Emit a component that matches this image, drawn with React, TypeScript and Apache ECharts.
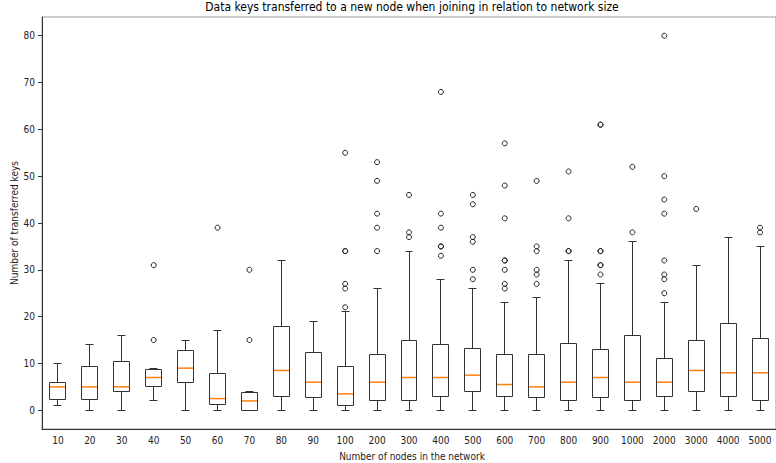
import React, { useEffect, useRef } from 'react';
import * as echarts from 'echarts';

const categories = ['10', '20', '30', '40', '50', '60', '70', '80', '90', '100', '200', '300', '400', '500', '600', '700', '800', '900', '1000', '2000', '3000', '4000', '5000'];

const whiskerLow = [1, 0, 0, 2, 0, 0, 0, 0, 0, 0, 0, 0, 0, 0, 0, 0, 0, 0, 0, 0, 0, 0, 0];
const q1 = [2.25, 2.25, 4, 5, 6, 1.25, 0, 3, 2.75, 1, 2, 2, 3, 4, 3, 2.75, 2, 2.75, 2, 3, 4, 3, 2];
const median = [5, 5, 5, 7, 9, 2.5, 2, 8.5, 6, 3.5, 6, 7, 7, 7.5, 5.5, 5, 6, 7, 6, 6, 8.5, 8, 8];
const q3 = [6, 9.25, 10.5, 8.75, 12.75, 7.75, 3.75, 18, 12.25, 9.25, 12, 15, 14, 13.25, 12, 12, 14.25, 13, 16, 11, 15, 18.5, 15.25];
const whiskerHigh = [10, 14, 16, 9, 15, 17, 4, 32, 19, 21, 26, 34, 28, 26, 23, 24, 32, 27, 36, 23, 31, 37, 35];

const outliers = [
  [], [], [], [15, 31], [], [39], [15, 30], [], [],
  [22, 26, 27, 34, 34, 55],
  [34, 39, 42, 49, 53],
  [37, 38, 46],
  [33, 35, 35, 39, 42, 68],
  [28, 30, 36, 37, 44, 46],
  [26, 27, 30, 32, 32, 41, 48, 57],
  [27, 29, 30, 34, 35, 49],
  [34, 34, 41, 51],
  [29, 31, 31, 34, 34, 61, 61],
  [38, 52],
  [25, 28, 29, 32, 42, 45, 50, 80],
  [43],
  [],
  [38, 39],
];

const yTicks = [0, 10, 20, 30, 40, 50, 60, 70, 80];

const titleText = 'Data keys transferred to a new node when joining in relation to network size';
const xName = 'Number of nodes in the network';
const yName = 'Number of transferred keys';

export default function App() {
  const ref = useRef<HTMLDivElement>(null);
  useEffect(() => {
    const chart = echarts.init(ref.current!, null, { renderer: 'svg' });
    const boxData = categories.map((_, i) => [i, whiskerLow[i], q1[i], median[i], q3[i], whiskerHigh[i]]);
    const outlierData: number[][] = [];
    outliers.forEach((arr, i) => arr.forEach((v) => outlierData.push([i, v])));
    const font = "'DejaVu Sans Condensed', 'DejaVu Sans', sans-serif";
    const lineCol = '#333';
    const s = (v: number) => Math.round(v - 0.5) + 0.5;

    chart.setOption({
      animation: false,
      grid: { left: 42, top: 17, right: -7, bottom: 34, show: true, borderColor: '#999', borderWidth: 1, backgroundColor: 'transparent' },
      xAxis: {
        type: 'category',
        data: categories,
        boundaryGap: true,
        axisLine: { onZero: false, lineStyle: { color: lineCol, width: 1 } },
        axisTick: { alignWithLabel: true, interval: 0, length: 4, lineStyle: { color: lineCol } },
        axisLabel: { interval: 0, color: '#222', fontSize: 10, fontFamily: font, margin: 6 },
        splitLine: { show: false },
      },
      yAxis: {
        type: 'value',
        min: -4,
        max: 84,
        axisLine: { show: true, onZero: false, lineStyle: { color: lineCol, width: 1 } },
        axisTick: { show: true, length: 4, customValues: yTicks, lineStyle: { color: lineCol } },
        axisLabel: { customValues: yTicks, color: '#222', fontSize: 10, fontFamily: font, margin: 7 },
        splitLine: { show: false },
      },
      graphic: [
        {
          type: 'text', x: 412, y: 7,
          style: { text: titleText, textAlign: 'center', textVerticalAlign: 'middle', fontSize: 12, fontFamily: font, fill: '#000' },
        },
        {
          type: 'text', x: 412, y: 456,
          style: { text: xName, textAlign: 'center', textVerticalAlign: 'middle', fontSize: 10, fontFamily: font, fill: '#222' },
        },
        {
          type: 'text', x: 14, y: 223, rotation: Math.PI / 2,
          style: { text: yName, textAlign: 'center', textVerticalAlign: 'middle', fontSize: 10, fontFamily: font, fill: '#222' },
        },
      ],
      series: [
        {
          type: 'custom',
          coordinateSystem: 'cartesian2d',
          data: boxData,
          encode: { x: 0, y: [1, 2, 3, 4, 5] },
          z: 2,
          renderItem: (params: any, api: any) => {
            const x = api.value(0);
            const pLow = api.coord([x, api.value(1)]);
            const pQ1 = api.coord([x, api.value(2)]);
            const pMed = api.coord([x, api.value(3)]);
            const pQ3 = api.coord([x, api.value(4)]);
            const pHigh = api.coord([x, api.value(5)]);
            const band = api.size([1, 0])[0];
            const cx = s(pLow[0]);
            const L = s(pLow[0] - band * 0.25);
            const R = s(pLow[0] + band * 0.25);
            const cL = s(pLow[0] - band * 0.125);
            const cR = s(pLow[0] + band * 0.125);
            const st = { stroke: lineCol, lineWidth: 1, fill: 'none' };
            return {
              type: 'group',
              children: [
                { type: 'line', shape: { x1: cx, y1: s(pQ1[1]), x2: cx, y2: s(pLow[1]) }, style: st },
                { type: 'line', shape: { x1: cx, y1: s(pQ3[1]), x2: cx, y2: s(pHigh[1]) }, style: st },
                { type: 'line', shape: { x1: cL, y1: s(pLow[1]), x2: cR, y2: s(pLow[1]) }, style: st },
                { type: 'line', shape: { x1: cL, y1: s(pHigh[1]), x2: cR, y2: s(pHigh[1]) }, style: st },
                { type: 'rect', shape: { x: L, y: s(pQ3[1]), width: R - L, height: s(pQ1[1]) - s(pQ3[1]) }, style: { stroke: lineCol, lineWidth: 1, fill: '#fff' } },
                { type: 'line', shape: { x1: L + 0.5, y1: pMed[1], x2: R - 0.5, y2: pMed[1] }, style: { stroke: '#ff7f0e', lineWidth: 1.5 } },
              ],
            };
          },
        },
        {
          type: 'scatter',
          data: outlierData,
          symbol: 'circle',
          symbolSize: 5,
          z: 3,
          itemStyle: { color: 'rgba(255,255,255,0)', borderColor: '#222', borderWidth: 1, opacity: 1 },
        },
      ],
    });
    return () => chart.dispose();
  }, []);
  return <div ref={ref} style={{ position: 'absolute', left: 0, top: 0, width: 776, height: 463 }} />;
}
